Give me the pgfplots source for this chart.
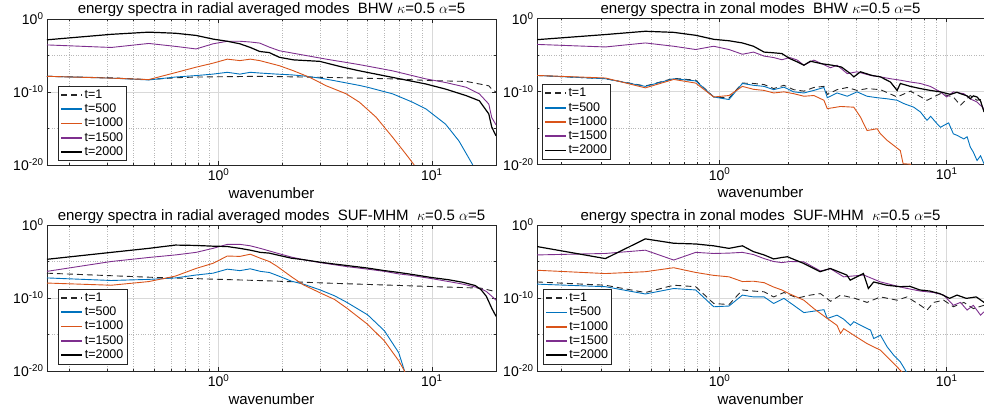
\documentclass[border=0pt]{standalone}
\usepackage{fontspec}
\setmainfont{Liberation Sans}
\usepackage{pgfplots}
\pgfplotsset{compat=1.18}
\definecolor{mblue}{rgb}{0,0.447,0.741}
\definecolor{morange}{rgb}{0.85,0.325,0.098}
\definecolor{mpurple}{rgb}{0.494,0.184,0.556}
\pgfplotsset{legend image code/.code={\draw[#1, line width=1.8pt] (0pt,0pt) -- (21pt,0pt);}}
\pgfplotsset{
  every axis/.append style={
    scale only axis, height=146pt,
    ymin=1e-20, ymax=1, xmin=0.157,
    ytick={1e-20,1e-10,1},
    yticklabels={10\textsuperscript{-20},10\textsuperscript{-10},10\textsuperscript{0}},
    minor ytick={1e-15,1e-5},
    xtick={1,10},
    xticklabels={10\textsuperscript{0},10\textsuperscript{1}},
    minor xtick={0.2,0.3,0.4,0.5,0.6,0.7,0.8,0.9,2,3,4,5,6,7,8,9},
    grid=both,
    major grid style={black!15, line width=0.6pt},
    minor grid style={black!28, dotted, line width=0.5pt},
    axis line style={black!85, line width=0.6pt},
    tick style={black!85, line width=0.5pt},
    major tick length=4pt, minor tick length=2pt,
    tick label style={font=\fontsize{14}{16}\selectfont},
    xlabel={wavenumber},
    label style={font=\fontsize{15}{17}\selectfont},
    title style={font=\fontsize{15}{17}\selectfont, at={(0.5,1)}, anchor=base, yshift=-1pt},
    legend cell align=left,
    legend style={font=\fontsize{12.5}{14}\selectfont, draw=black!85, fill=white, line width=0.6pt, inner xsep=2pt, inner ysep=1.5pt, anchor=south west, nodes={font=\fontsize{12.5}{14}\selectfont, inner sep=1.5pt, text height=9pt, text depth=2.3pt}},
  },
}
\begin{document}
\begin{tikzpicture}
\useasboundingbox (0,0) rectangle (984pt,412pt);
% ---------------- top left
\begin{loglogaxis}[at={(47pt,247pt)}, anchor=south west, width=449pt, xmax=20,
  title={energy spectra in radial averaged modes\ \ BHW $\kappa$=0.5 $\alpha$=5},
  legend style={at={(0.0245,0.027)}}]
\addplot[black!85, line width=0.9pt, dash pattern=on 6pt off 4pt] coordinates {(0.157,1.41e-8) (0.314,8.91e-9) (0.471,5.01e-9) (0.628,8.91e-9) (0.785,1.12e-8) (1.56,1.41e-8) (3.2,1e-8) (6.55,6.31e-9) (10.1,3.55e-9) (14.5,2.82e-9) (18.5,7.08e-10) (19.1,2.51e-10) (20,1e-10)};
\addlegendentry{t=1}
\addplot[mblue, line width=0.9pt] coordinates {(0.157,1.41e-8) (0.314,7.94e-9) (0.471,4.47e-9) (0.628,1.12e-8) (0.785,1.78e-8) (0.942,2.82e-8) (1.1,5.01e-8) (1.26,2.82e-8) (1.41,5.01e-8) (1.56,3.98e-8) (1.88,2.82e-8) (2.2,2.24e-8) (2.5,1.58e-8) (3,7.94e-9) (3.5,3.55e-9) (4.58,7.94e-10) (5,4.47e-10) (6.55,5.62e-11) (8.13,3.98e-12) (9.37,5.01e-13) (11.6,3.98e-15) (13.4,2.0e-17) (15.5,1.26e-20) (16,1.58e-21)};
\addlegendentry{t=500}
\addplot[morange, line width=0.9pt] coordinates {(0.157,1.41e-8) (0.314,7.94e-9) (0.471,5.01e-9) (0.628,4.47e-8) (0.785,2.51e-7) (0.942,8.91e-7) (1.1,3.16e-6) (1.26,2.0e-6) (1.41,3.16e-6) (1.56,2.0e-6) (1.93,3.98e-7) (2.25,7.94e-8) (2.68,1e-8) (3.2,7.08e-10) (3.97,5.62e-11) (4.58,3.98e-12) (5.48,3.55e-14) (6.55,6.31e-17) (7.56,3.16e-19) (8.27,1e-20) (8.6,1e-21)};
\addlegendentry{t=1000}
\addplot[mpurple, line width=0.9pt] coordinates {(0.157,2.82e-4) (0.314,1.26e-4) (0.471,4.47e-4) (0.628,1.78e-4) (0.785,7.94e-5) (0.942,3.98e-4) (1.1,8.91e-4) (1.26,8.91e-4) (1.41,7.08e-4) (1.56,5.01e-4) (1.73,1.41e-4) (1.93,4.47e-5) (2.25,2.0e-5) (3.2,3.16e-6) (4.58,5.62e-7) (6.55,7.94e-8) (9.37,6.31e-9) (11.6,2.0e-9) (14.5,4.47e-10) (16.7,5.62e-11) (18.5,2.24e-12) (19.1,3.16e-14) (20,3.16e-15)};
\addlegendentry{t=1500}
\addplot[black, line width=1.2pt] coordinates {(0.157,1.41e-3) (0.314,7.94e-3) (0.471,1.58e-2) (0.628,1.12e-2) (0.785,5.62e-3) (0.942,1.78e-3) (1.1,8.91e-4) (1.26,3.98e-4) (1.41,1.26e-4) (1.56,3.55e-5) (1.73,2.51e-5) (1.93,5.62e-6) (2.25,2.51e-6) (2.98,1.58e-6) (3.83,2.51e-7) (4.58,7.94e-8) (6.55,1e-8) (9.37,1.26e-9) (11.6,2.51e-10) (14.5,3.16e-11) (16.7,6.31e-12) (18.5,1e-13) (19.1,1.58e-15) (20,1e-16)};
\addlegendentry{t=2000}
\end{loglogaxis}
% ---------------- top right
\begin{loglogaxis}[at={(537pt,247.5pt)}, anchor=south west, width=447pt, xmax=14.6, axis y line*=left,
  title={energy spectra in zonal modes\ \ BHW $\kappa$=0.5 $\alpha$=5},
  legend style={at={(0.011,0.034)}}]
\addplot[black!85, line width=0.9pt, dash pattern=on 6pt off 4pt] coordinates {(0.157,1.58e-8) (0.314,5.62e-9) (0.471,5.62e-10) (0.628,6.31e-9) (0.785,3.55e-9) (0.942,1.78e-11) (1.1,1.26e-11) (1.26,1.41e-9) (1.41,1.26e-9) (1.57,8.91e-10) (1.73,2.51e-10) (1.92,7.08e-10) (2.12,1.78e-10) (2.35,1.12e-10) (2.60,3.55e-10) (2.88,5.01e-10) (2.98,3.98e-11) (3.29,1.78e-10) (3.65,3.55e-10) (4.03,1.41e-10) (4.46,2.51e-10) (5.11,1.78e-10) (6.05,1.78e-11) (6.92,1.12e-10) (8.19,6.31e-12) (9.38,5.01e-11) (10.7,1.78e-11) (11.5,1.26e-12) (12.7,2.82e-11) (13.6,6.31e-12) (14.6,1e-11)};
\addlegendentry{t=1}
\addplot[mblue, line width=0.9pt] coordinates {(0.157,1.58e-8) (0.314,5.62e-9) (0.471,5.01e-10) (0.628,5.62e-9) (0.785,2.82e-9) (0.942,1.78e-11) (1.1,7.94e-12) (1.26,1.26e-9) (1.41,7.08e-10) (1.57,5.01e-10) (1.73,1.78e-10) (1.92,3.98e-10) (2.12,8.91e-11) (2.35,6.31e-11) (2.60,1.41e-10) (2.88,3.55e-10) (2.98,1.41e-11) (3.29,6.31e-11) (3.65,2.24e-11) (4.03,8.91e-11) (4.46,2.24e-11) (4.94,1.41e-11) (5.47,1e-11) (6.05,6.31e-12) (6.47,2.24e-12) (7.16,7.08e-13) (7.66,1.58e-13) (8.19,1.12e-14) (8.5,3.98e-14) (9.06,3.98e-15) (9.4,1.26e-15) (9.70,2.24e-15) (10.2,5.01e-15) (10.7,1.58e-16) (11.1,1e-16) (11.9,3.16e-17) (12.3,6.31e-17) (12.7,2.51e-18) (13.1,5.01e-19) (13.6,3.55e-20) (14.1,1.58e-19) (14.6,1.26e-20)};
\addlegendentry{t=500}
\addplot[morange, line width=0.9pt] coordinates {(0.157,1.58e-8) (0.314,7.08e-9) (0.471,3.16e-10) (0.628,4.47e-9) (0.785,1.41e-9) (0.942,1.78e-11) (1.1,2.82e-11) (1.26,5.01e-10) (1.41,2.0e-10) (1.57,1.41e-10) (1.73,6.31e-11) (1.92,8.91e-11) (2.12,5.01e-11) (2.35,2.24e-11) (2.60,2.82e-11) (2.88,6.31e-12) (2.98,4.47e-13) (3.41,8.91e-13) (3.90,7.08e-13) (4.17,3.16e-14) (4.46,4.47e-16) (4.94,7.94e-16) (5.11,1.58e-16) (5.47,2.0e-17) (5.85,3.98e-18) (6.25,7.94e-19) (6.43,1.26e-20) (6.9,1.12e-20) (7.2,1e-21)};
\addlegendentry{t=1000}
\addplot[mpurple, line width=0.9pt] coordinates {(0.157,2.82e-4) (0.314,1.26e-4) (0.471,4.47e-4) (0.628,1.58e-4) (0.785,5.62e-5) (0.942,1.58e-4) (1.1,5.62e-5) (1.26,1.26e-5) (1.41,2.51e-5) (1.57,7.08e-6) (1.73,4.47e-6) (1.88,2.24e-6) (2.04,4.47e-6) (2.2,2.0e-6) (2.35,3.98e-7) (2.60,2.0e-6) (2.82,6.31e-7) (3.08,1.78e-7) (3.29,3.98e-7) (3.65,2.82e-8) (4.03,5.01e-8) (4.62,1.58e-8) (5.11,1e-8) (5.65,5.62e-9) (6.25,3.55e-9) (6.92,2.0e-9) (7.66,1.26e-9) (8.47,5.01e-10) (9.38,8.91e-11) (10.0,1.78e-11) (10.7,8.91e-11) (11.9,5.01e-11) (12.7,1e-11) (13.6,3.55e-12) (14.6,4.47e-13)};
\addlegendentry{t=1500}
\addplot[black, line width=1.2pt] coordinates {(0.157,1.26e-3) (0.314,6.31e-3) (0.471,1.78e-2) (0.628,1.26e-2) (0.785,5.01e-3) (0.942,1.41e-3) (1.1,8.91e-4) (1.26,4.47e-4) (1.41,1.58e-4) (1.57,2.51e-5) (1.73,2.0e-5) (1.88,1.58e-5) (2.04,3.16e-6) (2.2,1.12e-6) (2.35,3.98e-7) (2.51,1.41e-6) (2.82,6.31e-7) (3.13,3.98e-7) (3.44,2.24e-7) (3.77,2.82e-8) (3.90,1e-8) (4.17,5.01e-8) (4.69,1.58e-8) (5.11,1e-8) (5.65,2.0e-9) (6.05,1.41e-10) (6.25,1.26e-9) (6.92,5.01e-10) (7.66,2.51e-10) (8.47,1.41e-10) (9.38,8.91e-11) (10.4,3.98e-11) (11.1,7.94e-11) (11.5,5.01e-11) (12.3,2.51e-11) (12.7,1e-11) (13.1,2.51e-11) (13.6,1.78e-11) (14.1,5.01e-12) (14.6,1.58e-13)};
\addlegendentry{t=2000}
\end{loglogaxis}
% ---------------- bottom left
\begin{loglogaxis}[at={(47pt,41pt)}, anchor=south west, width=449pt, xmax=20,
  title={energy spectra in radial averaged modes\ \ SUF-MHM\ \ $\kappa$=0.5 $\alpha$=5},
  legend style={at={(0.025,0.047)}}]
\addplot[black!85, line width=0.9pt, dash pattern=on 6pt off 4pt] coordinates {(0.157,2.51e-7) (0.471,7.08e-8) (1.72,2.24e-8) (3.17,1.12e-8) (6.5,5.62e-9) (13.3,2.82e-9) (17,2.24e-9) (19.1,1e-9) (20,6.31e-10)};
\addlegendentry{t=1}
\addplot[mblue, line width=0.9pt] coordinates {(0.157,5.62e-8) (0.314,2.51e-8) (0.471,3.55e-8) (0.628,5.62e-8) (0.785,1.41e-7) (0.942,2.51e-7) (1.1,8.91e-7) (1.26,5.62e-7) (1.41,1e-6) (1.57,4.47e-7) (1.73,3.16e-7) (1.88,1.26e-7) (2.2,2.0e-8) (2.5,7.94e-9) (3,1.26e-9) (3.5,2.0e-10) (4,2.51e-11) (5,5.01e-13) (6,3.16e-15) (7,3.16e-18) (7.45,1e-20) (7.7,1e-21)};
\addlegendentry{t=500}
\addplot[morange, line width=0.9pt] coordinates {(0.157,1.12e-8) (0.314,5.62e-9) (0.471,1.78e-8) (0.628,1e-7) (0.785,1.12e-6) (0.942,5.62e-6) (1.1,5.62e-5) (1.26,5.01e-5) (1.41,1e-4) (1.57,2.82e-5) (1.73,1e-5) (1.88,2.24e-6) (2.2,7.94e-8) (2.5,6.31e-9) (3,5.01e-10) (3.5,6.31e-11) (4,3.98e-12) (5,2.51e-14) (6,1.26e-16) (7,2.51e-19) (7.45,1e-20) (7.7,1e-21)};
\addlegendentry{t=1000}
\addplot[mpurple, line width=0.9pt] coordinates {(0.157,4.47e-7) (0.314,1e-5) (0.471,3.55e-5) (0.628,7.94e-5) (0.785,1.78e-4) (0.942,6.31e-4) (1.1,2.24e-3) (1.26,2.24e-3) (1.41,1.41e-3) (1.57,6.31e-4) (1.73,2.82e-4) (1.88,1.41e-4) (2.2,3.98e-5) (2.5,1.78e-5) (3,7.08e-6) (3.5,3.55e-6) (4,2.0e-6) (5,8.91e-7) (6,4.47e-7) (7,2.0e-7) (8,1.26e-7) (10,4.47e-8) (12,1.78e-8) (14,7.94e-9) (16,3.16e-9) (17,1.78e-9) (18,7.94e-10) (19.1,1.78e-10) (20,5.01e-11)};
\addlegendentry{t=1500}
\addplot[black, line width=1.2pt] coordinates {(0.157,2.0e-5) (0.314,1.78e-4) (0.471,6.31e-4) (0.628,1.78e-3) (0.785,1.58e-3) (0.942,1.26e-3) (1.1,1.12e-3) (1.26,6.31e-4) (1.41,3.55e-4) (1.57,1.78e-4) (1.73,1.41e-4) (1.88,7.94e-5) (2.2,2.82e-5) (2.5,1.78e-5) (3,7.94e-6) (3.5,4.47e-6) (4,2.82e-6) (5,1.26e-6) (6,5.62e-7) (7,3.16e-7) (8,1.78e-7) (10,6.31e-8) (12,3.16e-8) (14,1.41e-8) (16,5.01e-9) (17,1.41e-9) (18,1.78e-10) (18.5,3.16e-11) (19.1,3.98e-12) (20,3.16e-13)};
\addlegendentry{t=2000}
\end{loglogaxis}
% ---------------- bottom right
\begin{loglogaxis}[at={(537pt,41pt)}, anchor=south west, width=447pt, xmax=14.6, axis y line*=left,
  title={energy spectra in zonal modes\ \ SUF-MHM\ \ $\kappa$=0.5 $\alpha$=5},
  legend style={at={(0.013,0.046)}}]
\addplot[black!85, line width=0.9pt, dash pattern=on 6pt off 4pt] coordinates {(0.157,1.58e-8) (0.314,5.62e-9) (0.471,5.62e-10) (0.628,5.62e-9) (0.785,3.55e-9) (0.942,1.78e-11) (1.1,1.26e-11) (1.26,1.26e-9) (1.41,8.91e-10) (1.57,7.08e-10) (1.73,1.41e-10) (1.92,5.62e-10) (2.2,1e-10) (2.51,2.51e-10) (2.78,3.98e-10) (3.08,3.55e-11) (3.41,2.51e-10) (3.90,1e-10) (4.46,2.51e-11) (5.11,1.41e-10) (6.05,5.01e-11) (6.69,1.41e-10) (7.66,1e-11) (8.19,2.24e-12) (8.77,2.51e-11) (9.70,5.01e-11) (10.7,6.31e-12) (11.9,2.51e-11) (13.1,3.55e-12) (14.6,1e-11)};
\addlegendentry{t=1}
\addplot[mblue, line width=0.9pt] coordinates {(0.157,7.94e-9) (0.314,3.55e-9) (0.471,3.55e-10) (0.628,2.0e-9) (0.785,1.26e-9) (0.942,6.31e-12) (1.1,7.94e-12) (1.26,2.51e-10) (1.41,1.41e-10) (1.57,1.41e-10) (1.73,1.78e-11) (1.92,8.91e-11) (2.12,1e-11) (2.35,1e-12) (2.60,1.58e-12) (2.88,2.51e-12) (2.98,1.58e-13) (3.29,4.47e-13) (3.52,1.26e-13) (3.77,1.78e-14) (3.90,5.62e-14) (4.31,1.12e-14) (4.62,3.98e-15) (4.77,2.82e-16) (5.11,7.94e-16) (5.47,2.0e-17) (5.85,1.41e-18) (6.25,1.78e-19) (6.58,1.26e-20) (6.69,5.01e-21)};
\addlegendentry{t=500}
\addplot[morange, line width=0.9pt] coordinates {(0.157,6.31e-7) (0.314,2.24e-7) (0.471,3.98e-7) (0.628,1.41e-6) (0.785,3.16e-7) (0.942,1.26e-7) (1.1,7.94e-8) (1.26,1.78e-8) (1.41,2.0e-8) (1.57,1.26e-8) (1.73,3.16e-9) (1.88,1.26e-9) (2.04,3.55e-10) (2.35,5.01e-11) (2.60,3.55e-12) (2.98,1.58e-13) (3.29,1.78e-14) (3.41,1.41e-15) (3.52,6.31e-15) (3.90,7.94e-16) (4.46,5.62e-17) (5.11,7.08e-18) (5.65,3.16e-19) (6.25,1.26e-20) (6.43,5.01e-21)};
\addlegendentry{t=1000}
\addplot[mpurple, line width=0.9pt] coordinates {(0.157,7.94e-5) (0.314,1.26e-4) (0.471,3.55e-4) (0.628,1.58e-5) (0.785,1.78e-4) (0.942,1.26e-4) (1.1,1.41e-4) (1.26,1.78e-4) (1.41,8.91e-5) (1.57,2.51e-5) (1.73,1e-5) (1.88,7.08e-6) (2.04,1e-5) (2.35,8.91e-6) (2.78,5.01e-7) (3.08,1e-6) (3.52,7.94e-8) (4.31,1.41e-7) (5.11,1.58e-8) (6.47,2.51e-9) (7.66,8.91e-10) (8.77,5.62e-10) (9.70,2.51e-10) (10.7,1e-11) (11.5,2.51e-11) (12.3,2.24e-12) (13.1,1e-11) (14.1,4.47e-13) (14.6,1.26e-12)};
\addlegendentry{t=1500}
\addplot[black, line width=1.2pt] coordinates {(0.157,1.12e-3) (0.314,2.51e-5) (0.471,1.26e-2) (0.628,3.16e-3) (0.785,2.51e-3) (0.942,1.41e-3) (1.1,6.31e-4) (1.26,1.41e-3) (1.41,2.24e-4) (1.57,7.94e-5) (1.73,2.24e-5) (1.88,3.55e-5) (1.99,4.47e-5) (2.34,5.62e-6) (2.77,3.98e-7) (3.07,1.12e-6) (3.63,1.41e-7) (3.76,2.82e-8) (4.02,7.94e-8) (4.30,2.24e-7) (4.52,2.0e-9) (4.77,1.58e-8) (5.44,5.62e-9) (6.23,3.55e-9) (6.89,3.98e-9) (7.62,1.26e-9) (8.43,8.91e-10) (9.33,3.98e-10) (10.3,8.91e-11) (11.1,2.51e-10) (12.2,8.91e-11) (13.5,1.41e-10) (14.6,2.51e-11)};
\addlegendentry{t=2000}
\end{loglogaxis}
\end{tikzpicture}
\end{document}
